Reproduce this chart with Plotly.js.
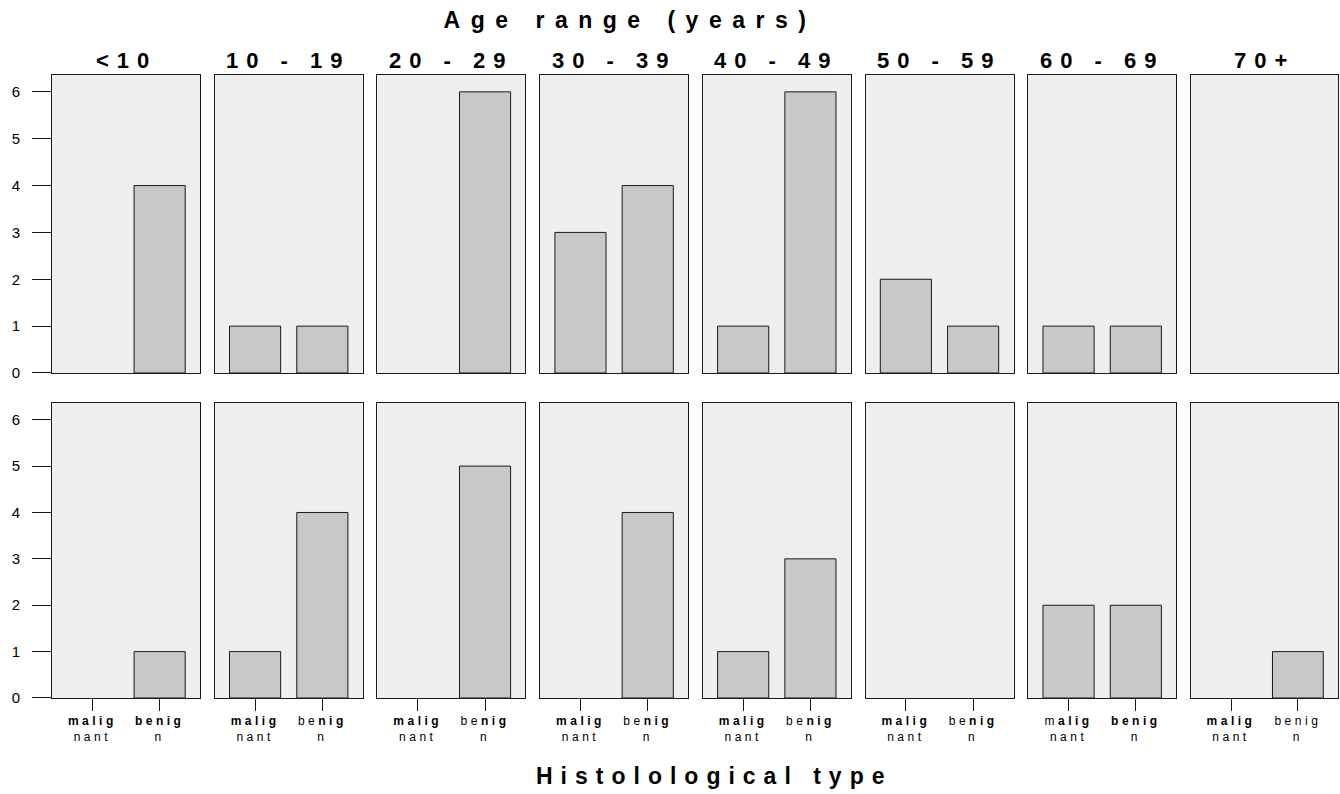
<!DOCTYPE html>
<html><head><meta charset="utf-8">
<script src="https://cdn.plot.ly/plotly-3.0.1.min.js"></script>
<style>
body{margin:0;background:#fff;}
.xaxislayer-above text{letter-spacing:3.5px;}
.gtitle{letter-spacing:10.5px;}
.annotation-text{letter-spacing:8px;}
</style>
</head><body><div id="chart" style="width:1340px;height:794px;"></div>
<script>
// ---- data ----
const ageRanges = ["<10", "10 - 19", "20 - 29", "30 - 39", "40 - 49", "50 - 59", "60 - 69", "70+"];
const histTypes = ["malignant", "benign"];
const topMalignant    = [0, 1, 0, 3, 1, 2, 1, 0];
const topBenign       = [4, 1, 6, 4, 6, 1, 1, 0];
const bottomMalignant = [0, 1, 0, 0, 1, 0, 2, 0];
const bottomBenign    = [1, 4, 5, 4, 3, 0, 2, 1];
const malignantTickText = ["<b>malig</b><br>nant", "<b>malig</b><br>nant", "<b>malig</b><br>nant", "<b>malig</b><br>nant",
                           "<b>malig</b><br>nant", "<b>malig</b><br>nant", "m<b>alig</b><br>nant", "<b>malig</b><br>nant"];
const benignTickText = ["<b>benig</b><br>n", "be<b>nig</b><br>n", "be<b>nig</b><br>n", "be<b>nig</b><br>n",
                        "be<b>nig</b><br>n", "be<b>nig</b><br>n", "<b>benig</b><br>n", "benig<br>n"];
const yTickVals = [0, 1, 2, 3, 4, 5, 6];
const mainTitle = "Age range (years)";
const bottomTitle = "Histolological type";

// ---- layout helpers ----
const FONT = "Liberation Sans, Arial, sans-serif";
const nCols = ageRanges.length;
const plotW = 1286, panelW = 148, pitch = 162.7;
const rowDomains = [[0.5217, 1], [0, 0.4735]];
const yRange = [0, 6.36];
const xRange = [-0.6, 1.6];

const traces = [];
const layout = {
  width: 1340, height: 794,
  margin: {l: 52, r: 2, t: 75, b: 96},
  paper_bgcolor: "#ffffff",
  plot_bgcolor: "#efefef",
  showlegend: false,
  font: {family: FONT, color: "#000"},
  title: {text: mainTitle, x: 630/1340, xref: "container", xanchor: "center",
          y: 1 - 20/794, yref: "container", yanchor: "middle",
          font: {family: FONT, size: 23, weight: "bold", color: "#000"}},
  annotations: []
};

const rows = [[topMalignant, topBenign], [bottomMalignant, bottomBenign]];
rows.forEach((rowData, r) => {
  for (let c = 0; c < nCols; c++) {
    const idx = r * nCols + c + 1;
    const xa = idx === 1 ? "x" : "x" + idx;
    const ya = idx === 1 ? "y" : "y" + idx;
    const vals = [rowData[0][c], rowData[1][c]];
    traces.push({
      type: "bar",
      x: histTypes,
      y: vals,
      xaxis: xa, yaxis: ya,
      width: 0.76,
      marker: {color: "#c8c8c8", line: {color: "#1a1a1a", width: vals.map(v => v > 0 ? 1 : 0)}},
      hoverinfo: "x+y"
    });
    const x0 = c * pitch / plotW;
    const isBottom = r === 1;
    layout["xaxis" + (idx === 1 ? "" : idx)] = {
      domain: [x0, x0 + panelW / plotW],
      anchor: ya,
      type: "category",
      categoryorder: "array", categoryarray: histTypes,
      range: xRange,
      showline: true, mirror: true, linecolor: "#1a1a1a", linewidth: 1,
      showgrid: false, zeroline: false,
      ticks: isBottom ? "outside" : "",
      ticklen: 12, tickcolor: "#1a1a1a", tickwidth: 1,
      showticklabels: isBottom,
      tickvals: histTypes,
      ticktext: [malignantTickText[c], benignTickText[c]],
      tickfont: {family: FONT, size: 12, color: "#000"},
      tickangle: 0,
      fixedrange: true
    };
    layout["yaxis" + (idx === 1 ? "" : idx)] = {
      domain: rowDomains[r],
      anchor: xa,
      range: yRange,
      showline: true, mirror: true, linecolor: "#1a1a1a", linewidth: 1,
      showgrid: false, zeroline: false,
      ticks: c === 0 ? "outside" : "",
      ticklen: 19, tickcolor: "#1a1a1a", tickwidth: 1,
      showticklabels: c === 0,
      tickvals: yTickVals,
      ticklabelstandoff: 9,
      tickfont: {family: FONT, size: 15, color: "#000"},
      fixedrange: true
    };
  }
});

// column strip titles
ageRanges.forEach((lab, c) => {
  layout.annotations.push({
    text: "<b>" + lab + "</b>",
    xref: (c === 0 ? "x" : "x" + (c + 1)) + " domain", x: 0.5, xanchor: "center",
    yref: "paper", y: 1, yanchor: "bottom", yshift: 0,
    showarrow: false,
    font: {family: FONT, size: 22, color: "#000"}
  });
});
// bottom axis title
layout.annotations.push({
  text: "<b>" + bottomTitle + "</b>",
  xref: "paper", x: (714 - 52) / plotW, xanchor: "center",
  yref: "paper", y: 0, yanchor: "top", yshift: -63,
  showarrow: false,
  font: {family: FONT, size: 23, color: "#000"}
});

Plotly.newPlot("chart", traces, layout, {displayModeBar: false, staticPlot: true});
</script>
</body></html>
